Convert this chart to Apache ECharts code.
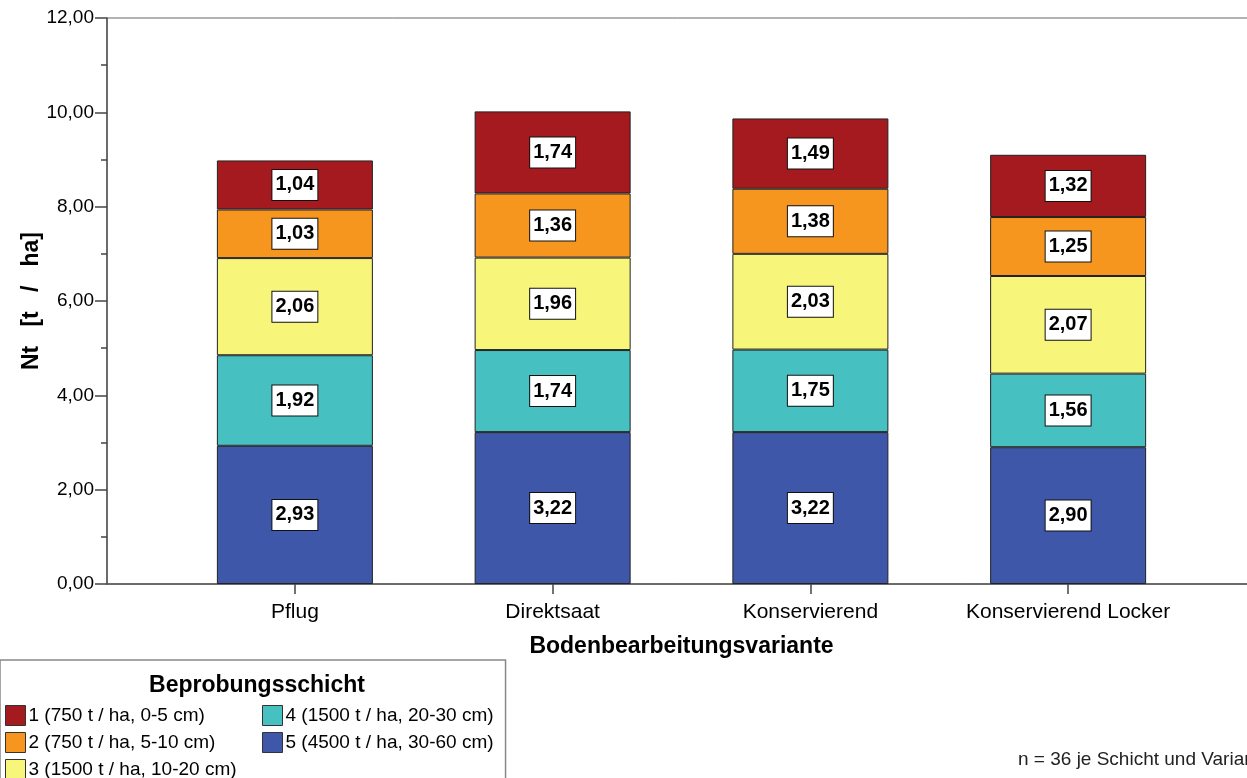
<!DOCTYPE html>
<html>
<head>
<meta charset="utf-8">
<script src="https://cdn.jsdelivr.net/npm/echarts@6/dist/echarts.min.js"></script>
<style>html,body{margin:0;padding:0;background:#fff}#c{width:1247px;height:778px}</style>
</head>
<body>
<div id="c"></div>
<script>
const categories = ['Pflug', 'Direktsaat', 'Konservierend', 'Konservierend Locker'];
const layerNames = [
  '1 (750 t / ha, 0-5 cm)',
  '2 (750 t / ha, 5-10 cm)',
  '3 (1500 t / ha, 10-20 cm)',
  '4 (1500 t / ha, 20-30 cm)',
  '5 (4500 t / ha, 30-60 cm)'
];
const layer1 = [1.04, 1.74, 1.49, 1.32];
const layer2 = [1.03, 1.36, 1.38, 1.25];
const layer3 = [2.06, 1.96, 2.03, 2.07];
const layer4 = [1.92, 1.74, 1.75, 1.56];
const layer5 = [2.93, 3.22, 3.22, 2.90];
const yTicks = [0, 2, 4, 6, 8, 10, 12];

const colors = ['#A51A1E', '#F7961F', '#F8F57B', '#47C0C2', '#3E57A9'];
const layers = [layer1, layer2, layer3, layer4, layer5];
const FONT = '"Liberation Sans", Arial, sans-serif';
const fmt = v => v.toFixed(2).replace('.', ',');

// stack from bottom (5) to top (1)
const series = [4, 3, 2, 1, 0].map(k => ({
  name: layerNames[k],
  type: 'bar',
  stack: 'total',
  xAxisIndex: 0,
  yAxisIndex: 0,
  barWidth: 156,
  itemStyle: { color: colors[k], borderColor: '#222', borderWidth: 1 },
  label: {
    show: true,
    position: 'inside',
    formatter: p => fmt(p.value),
    fontFamily: FONT,
    fontSize: 20,
    fontWeight: 'bold',
    color: '#000',
    backgroundColor: '#fff',
    borderColor: '#111',
    borderWidth: 1,
    padding: [5, 3, 5, 3]
  },
  emphasis: { disabled: true },
  data: layers[k]
}));

const legendCommon = {
  orient: 'vertical',
  height: 90,
  itemWidth: 20, itemHeight: 20, itemGap: 6,
  icon: 'rect',
  itemStyle: { borderColor: '#333', borderWidth: 1 },
  textStyle: { fontFamily: FONT, fontSize: 19, color: '#000', padding: [0, 0, 0, -2] }
};

const chart = echarts.init(document.getElementById('c'), null, { renderer: 'canvas' });
chart.setOption({
  animation: false,
  textStyle: { fontFamily: FONT },
  title: [
    {
      text: 'Beprobungsschicht',
      left: 252, top: 669, textAlign: 'center',
      textStyle: { fontFamily: FONT, fontSize: 23, fontWeight: 'bold', color: '#000' }
    },
    {
      text: 'n = 36 je Schicht und Variante',
      left: 1013, top: 745,
      textStyle: { fontFamily: FONT, fontSize: 19, fontWeight: 'normal', color: '#222' }
    }
  ],
  legend: [
    Object.assign({}, legendCommon, {
      left: 0, top: 660,
      padding: [45, 269, 20, 5],
      borderColor: '#888', borderWidth: 1.5,
      data: layerNames.slice(0, 3)
    }),
    Object.assign({}, legendCommon, {
      left: 262, top: 705,
      padding: 0,
      data: layerNames.slice(3)
    })
  ],
  grid: [
    { left: 166, right: 50, top: 18, bottom: 194, containLabel: false, outerBoundsMode: 'none' },
    {
      left: 107, top: 18, right: -9, bottom: 194,
      show: true, borderColor: '#666', borderWidth: 1,
      containLabel: false, outerBoundsMode: 'none'
    }
  ],
  xAxis: [
    {
      type: 'category',
      gridIndex: 0,
      data: categories,
      axisLine: { show: false },
      axisTick: { show: true, length: 10, alignWithLabel: true, lineStyle: { color: '#444', width: 1.5 } },
      axisLabel: { margin: 18, fontFamily: FONT, fontSize: 21, color: '#000', interval: 0 },
      splitLine: { show: false }
    },
    {
      type: 'value',
      gridIndex: 1,
      min: 0, max: 1,
      name: 'Bodenbearbeitungsvariante',
      nameLocation: 'middle',
      nameGap: 51,
      nameMoveOverlap: false,
      nameTextStyle: { fontFamily: FONT, fontSize: 23, fontWeight: 'bold', color: '#000' },
      splitLine: { show: false },
      axisLine: { show: true, lineStyle: { color: '#555', width: 1.5 } },
      axisTick: { show: false },
      axisLabel: { show: false }
    }
  ],
  yAxis: [
    { type: 'value', gridIndex: 0, min: 0, max: 12, show: false },
    {
      type: 'value',
      gridIndex: 1,
      min: 0, max: 12, interval: 2,
      name: 'Nt   [t   /   ha]',
      nameLocation: 'middle',
      nameGap: 64,
      nameMoveOverlap: false,
      nameTextStyle: { fontFamily: FONT, fontSize: 23, fontWeight: 'bold', color: '#000' },
      splitLine: { show: false },
      axisLine: { show: true, lineStyle: { color: '#555', width: 1.5 } },
      axisTick: { show: true, length: 12, lineStyle: { color: '#444', width: 1.5 } },
      minorTick: { show: true, splitNumber: 2, length: 6, lineStyle: { color: '#444', width: 1.5 } },
      axisLabel: {
        formatter: v => fmt(v),
        customValues: yTicks,
        margin: 13,
        fontFamily: FONT, fontSize: 19, color: '#000'
      }
    }
  ],
  series: series
});
</script>
</body>
</html>
